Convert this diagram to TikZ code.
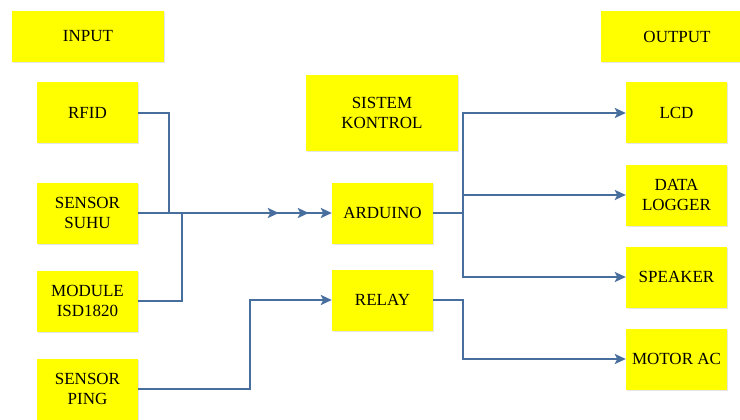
\documentclass[tikz,border=0pt]{standalone}
\usepackage{fontspec}
\setmainfont{Liberation Serif}
\usetikzlibrary{positioning, arrows.meta, shadows}

\definecolor{boxyellow}{RGB}{255,255,0}
\definecolor{linkblue}{RGB}{72,110,158}

\begin{document}
\begin{tikzpicture}[x=1pt, y=-1pt, node distance=82pt, on grid,
    block/.style={rectangle, fill=boxyellow, minimum width=101pt, minimum height=61pt,
        align=center, inner sep=2pt, font=\fontsize{17}{20}\selectfont,
        drop shadow={shadow xshift=1pt, shadow yshift=-1pt, fill=black!20}},
    title/.style={block, minimum width=152pt, minimum height=51pt},
    link/.style={draw=linkblue, line width=2.8pt, -{Stealth[length=11pt, width=10pt, inset=2.5pt]}}]
            \useasboundingbox[fill=white] (0,0) rectangle (740,420);

            % Input
            \node[title] (input) at (88,36.5) {INPUT};
            \node[block] (rfid) at (87.5,113) {RFID};
            \node[block] (suhu) at (87.5,213) {SENSOR\\SUHU};
            \node[block] (isd) at (87.5,301) {MODULE\\ISD1820};
            \node[block] (ping) at (87.5,389) {SENSOR\\PING};

            % Sistem kontrol
            \node[title, minimum height=76pt] (kontrol) at (382,113) {SISTEM\\KONTROL};
            \node[block] (arduino) at (382.5,213) {ARDUINO};
            \node[block] (relay) at (382.5,300) {RELAY};

            % Output
            \node[title] (output) at (677,36.5) {OUTPUT};
            \node[block] (lcd) at (676.5,113) {LCD};
            \node[block, below=of lcd] (logger) {DATA\\LOGGER};
            \node[block, below=of logger] (speaker) {SPEAKER};
            \node[block, below=of speaker] (motor) {MOTOR AC};

            % Buses
            \coordinate (rfidbus) at (169,0);
            \coordinate (isdbus) at (182,0);
            \coordinate (pingbus) at (250,0);
            \coordinate (outbus) at (463,0);

            % Input to arduino
            \draw[link, shorten >=53pt] (rfid.east) -| (rfidbus |- arduino.west) -- (arduino.west);
            \draw[link, shorten >=23pt] (suhu) -- (arduino);
            \draw[link] (isd.east) -| (isdbus |- arduino.west) -- (arduino.west);
            \draw[link] (ping.east) -| (pingbus |- relay.west) -- (relay.west);

            % Arduino and relay to output
            \draw[link] (arduino.east) -| (outbus |- lcd.west) -- (lcd.west);
            \draw[link] (arduino.east) -| (outbus |- logger.west) -- (logger.west);
            \draw[link] (arduino.east) -| (outbus |- speaker.west) -- (speaker.west);
            \draw[link] (relay.east) -| (outbus |- motor.west) -- (motor.west);
        \end{tikzpicture}
\end{document}
